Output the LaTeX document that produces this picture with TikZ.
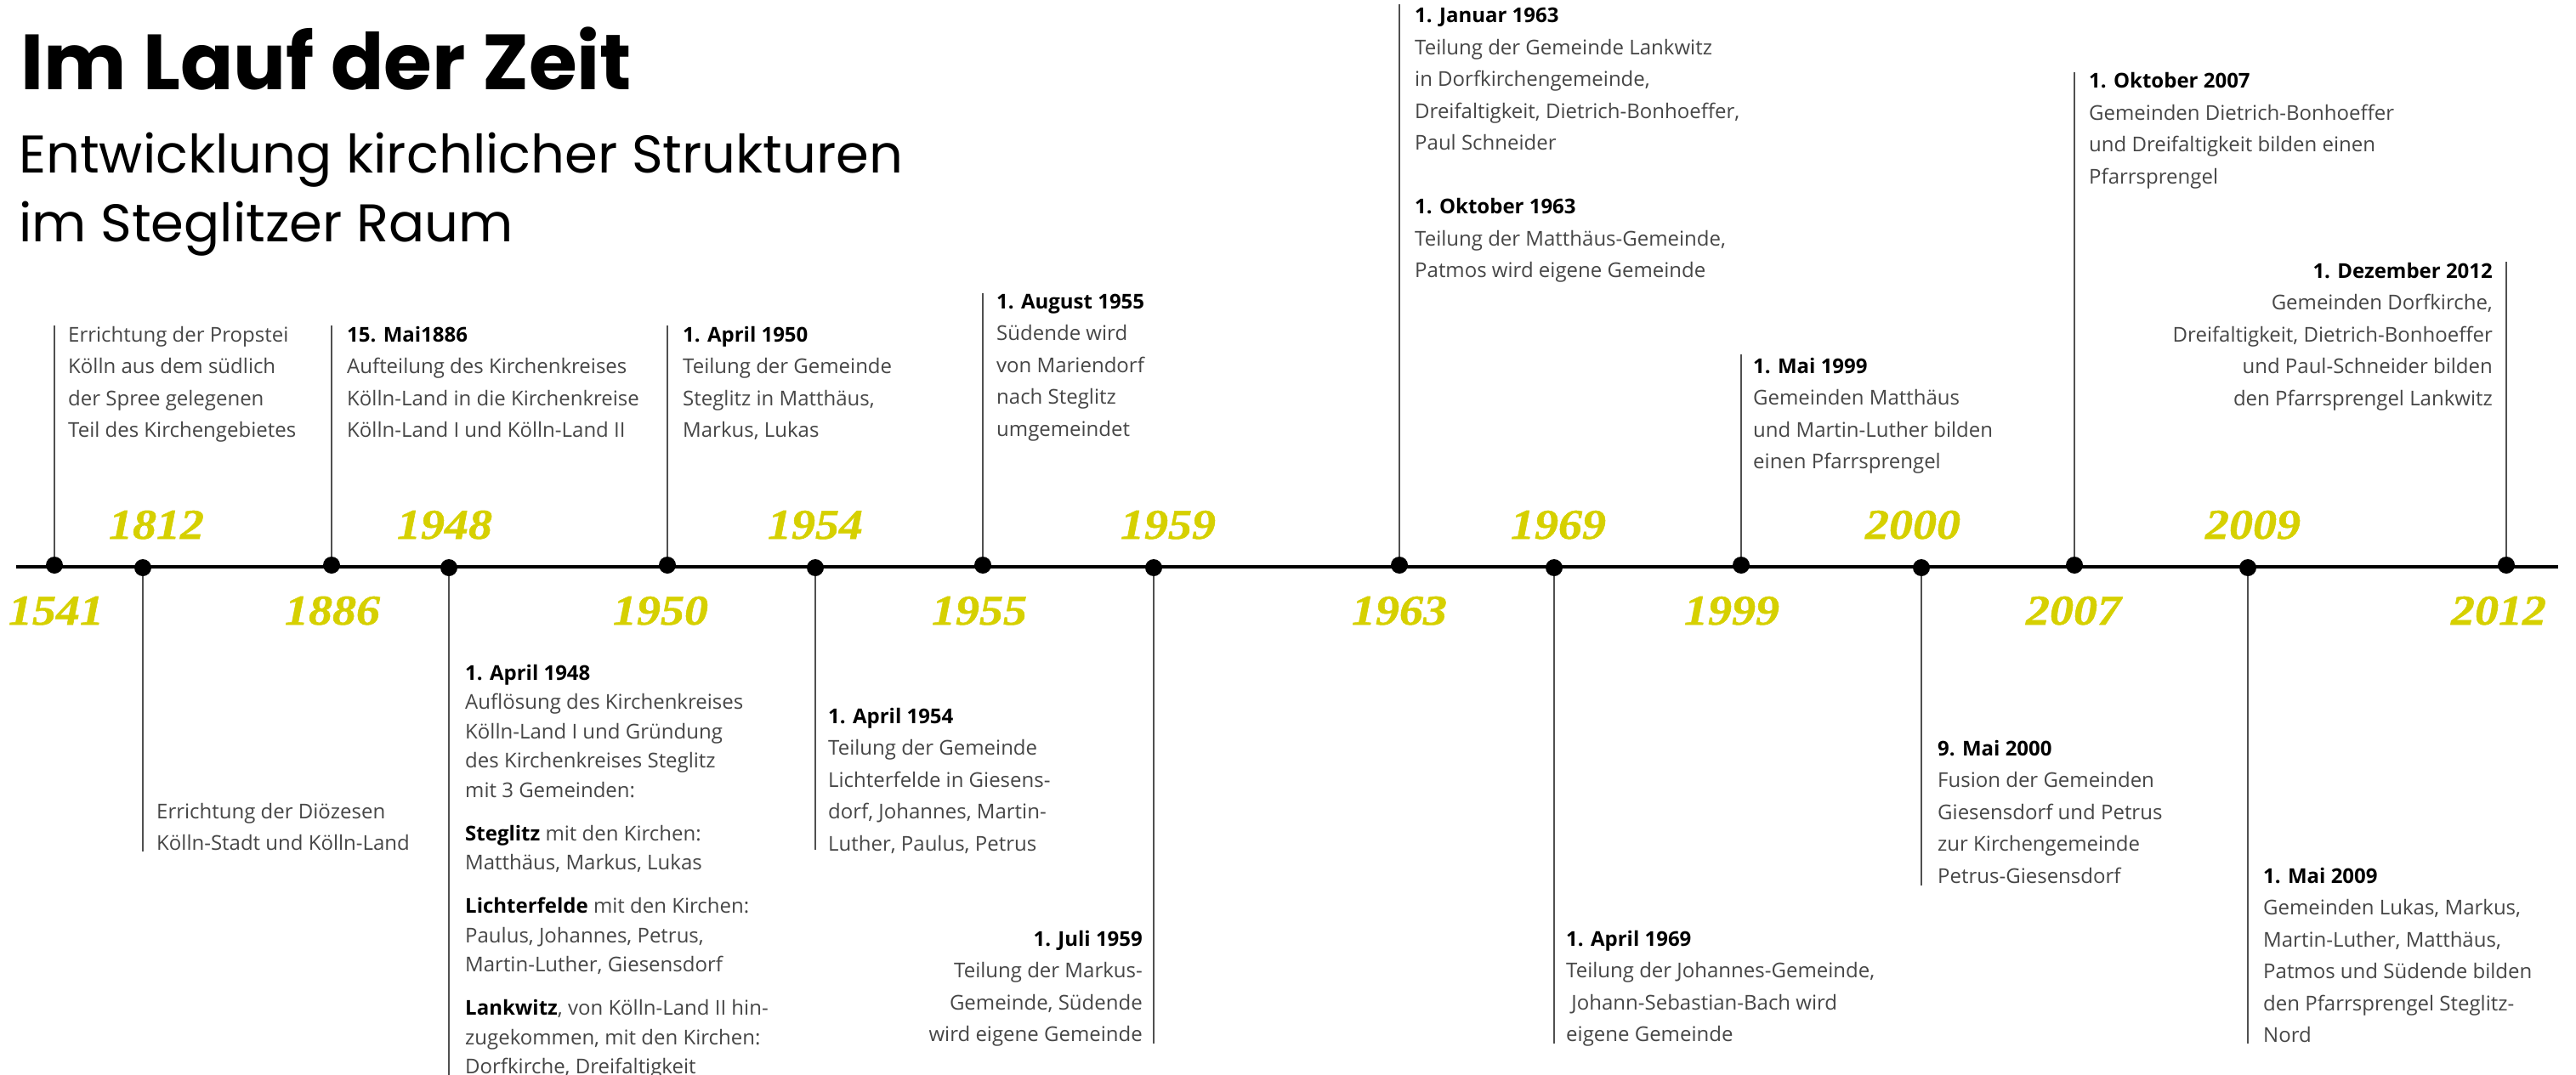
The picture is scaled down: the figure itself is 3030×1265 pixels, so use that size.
\documentclass[tikz,border=0pt]{standalone}
\usepackage{fontspec}
\setmainfont{Open Sans}
\newfontfamily\yearfont{Liberation Serif}[FakeStretch=1.12,FakeBold=1]
\newfontfamily\titlefont{Poppins}
\definecolor{yearcol}{RGB}{214,208,0}
\definecolor{bodycol}{RGB}{70,70,70}
\definecolor{linecol}{RGB}{80,80,80}
\newcommand{\blockL}[1]{\begin{tabular}[t]{@{}l@{}}#1\end{tabular}}
\newcommand{\blockR}[1]{\begin{tabular}[t]{@{}r@{}}#1\end{tabular}}
\newcommand{\hd}[1]{{\bfseries\color{black}#1}}
\tikzset{
  dot/.style={circle, fill=black, minimum size=20pt, inner sep=0pt},
  conn/.style={draw=linecol, line width=1.6pt},
  txt/.style={inner sep=0pt, font=\fontsize{24}{37.5}\selectfont, text=bodycol},
  txttight/.style={inner sep=0pt, font=\fontsize{24}{34.5}\selectfont, text=bodycol},
  yr/.style={inner sep=0pt, anchor=base, font=\yearfont\fontsize{50}{50}\selectfont\bfseries\itshape, text=yearcol},
  mainline/.style={draw=black, line width=3.2pt}
}
\begin{document}
\begin{tikzpicture}[x=1pt, y=-1pt]
\useasboundingbox (0,0) rectangle (3030,1265);
\fill[white] (0,0) rectangle (3030,1265);

% title
\node[anchor=base west, inner sep=0pt, font=\titlefont\fontsize{92}{92}\selectfont\bfseries] (title) at (24,106) {Im Lauf der Zeit};
\node[anchor=base west, inner sep=0pt, font=\titlefont\fontsize{62.4}{75}\selectfont] (sub1) at (22,204) {Entwicklung kirchlicher Strukturen};
\node[anchor=base west, inner sep=0pt, font=\titlefont\fontsize{62.4}{75}\selectfont] (sub2) at (22,285) {im Steglitzer Raum};

% main line
\coordinate (lstart) at (19,667);
\coordinate (lend) at (3009,667);
\draw[mainline] (lstart) -- (lend);

% connector end points
\coordinate (e1541) at (64,383);
\coordinate (e1812) at (168,1002);
\coordinate (e1886) at (390,383);
\coordinate (e1948) at (528,1265);
\coordinate (e1950) at (785,383);
\coordinate (e1954) at (959,1000);
\coordinate (e1955) at (1156,345);
\coordinate (e1959) at (1357,1228);
\coordinate (e1963) at (1646,5);
\coordinate (e1969) at (1828,1228);
\coordinate (e1999) at (2048,417);
\coordinate (e2000) at (2260,1042);
\coordinate (e2007) at (2440,85);
\coordinate (e2009) at (2644,1228);
\coordinate (e2012) at (2948,308);

% dots
\node[dot] (d1541) at (64,665) {};
\node[dot] (d1812) at (168,668) {};
\node[dot] (d1886) at (390,665) {};
\node[dot] (d1948) at (528,668) {};
\node[dot] (d1950) at (785,665) {};
\node[dot] (d1954) at (959,668) {};
\node[dot] (d1955) at (1156,665) {};
\node[dot] (d1959) at (1357,668) {};
\node[dot] (d1963) at (1646,665) {};
\node[dot] (d1969) at (1828,668) {};
\node[dot] (d1999) at (2048,665) {};
\node[dot] (d2000) at (2260,668) {};
\node[dot] (d2007) at (2440,665) {};
\node[dot] (d2009) at (2644,668) {};
\node[dot] (d2012) at (2948,665) {};

% connectors
\foreach \y in {1541,1812,1886,1948,1950,1954,1955,1959,1963,1969,1999,2000,2007,2009,2012}
  \draw[conn] (d\y) -- (e\y);

% year labels
\node[yr] (y1812) at (184,634) {1812};
\node[yr] (y1948) at (523,634) {1948};
\node[yr] (y1954) at (959,634) {1954};
\node[yr] (y1959) at (1374,634) {1959};
\node[yr] (y1969) at (1833,634) {1969};
\node[yr] (y2000) at (2250,634) {2000};
\node[yr] (y2009) at (2650,634) {2009};
\node[yr] (y1541) at (66,735) {1541};
\node[yr] (y1886) at (391,735) {1886};
\node[yr] (y1950) at (777,735) {1950};
\node[yr] (y1955) at (1152,735) {1955};
\node[yr] (y1963) at (1646,735) {1963};
\node[yr] (y1999) at (2037,735) {1999};
\node[yr] (y2007) at (2439,735) {2007};
\node[yr] (y2012) at (2939,735) {2012};

% text blocks
\node[txt, anchor=base west] (t1541) at (80,402) {\blockL{Errichtung der Propstei\\Kölln aus dem südlich\\der Spree gelegenen\\Teil des Kirchengebietes}};
\node[txt, anchor=base west] (t1812) at (184,963) {\blockL{Errichtung der Diözesen\\Kölln-Stadt und Kölln-Land}};
\node[txt, anchor=base west] (t1886) at (408,402) {\blockL{\hd{15. Mai1886}\\Aufteilung des Kirchenkreises\\Kölln-Land in die Kirchenkreise\\Kölln-Land I und Kölln-Land II}};
\node[txttight, anchor=base west] (t1948) at (547,800) {\blockL{\hd{1. April 1948}\\Auflösung des Kirchenkreises\\Kölln-Land I und Gründung\\des Kirchenkreises Steglitz\\mit 3 Gemeinden:\\[16.5pt]\hd{Steglitz} mit den Kirchen:\\Matthäus, Markus, Lukas\\[16.5pt]\hd{Lichterfelde} mit den Kirchen:\\Paulus, Johannes, Petrus,\\Martin-Luther, Giesensdorf\\[16.5pt]\hd{Lankwitz}, von Kölln-Land II hin-\\zugekommen, mit den Kirchen:\\Dorfkirche, Dreifaltigkeit}};
\node[txt, anchor=base west] (t1950) at (803,402) {\blockL{\hd{1. April 1950}\\Teilung der Gemeinde\\Steglitz in Matthäus,\\Markus, Lukas}};
\node[txt, anchor=base west] (t1954) at (974,851) {\blockL{\hd{1. April 1954}\\Teilung der Gemeinde\\Lichterfelde in Giesens-\\dorf, Johannes, Martin-\\Luther, Paulus, Petrus}};
\node[txt, anchor=base west] (t1955) at (1172,363) {\blockL{\hd{1. August 1955}\\Südende wird\\von Mariendorf\\nach Steglitz\\umgemeindet}};
\node[txt, anchor=base east] (t1959) at (1344,1113) {\blockR{\hd{1. Juli 1959}\\Teilung der Markus-\\Gemeinde, Südende\\wird eigene Gemeinde}};
\node[txt, anchor=base west] (t1963) at (1664,27) {\blockL{\hd{1. Januar 1963}\\Teilung der Gemeinde Lankwitz\\in Dorfkirchengemeinde,\\Dreifaltigkeit, Dietrich-Bonhoeffer,\\Paul Schneider\\[37.5pt]\hd{1. Oktober 1963}\\Teilung der Matthäus-Gemeinde,\\Patmos wird eigene Gemeinde}};
\node[txt, anchor=base west] (t1969) at (1842,1113) {\blockL{\hd{1. April 1969}\\Teilung der Johannes-Gemeinde,\\\ Johann-Sebastian-Bach wird\\eigene Gemeinde}};
\node[txt, anchor=base west] (t1999) at (2062,439) {\blockL{\hd{1. Mai 1999}\\Gemeinden Matthäus\\und Martin-Luther bilden\\einen Pfarrsprengel}};
\node[txt, anchor=base west] (t2000) at (2279,889) {\blockL{\hd{9. Mai 2000}\\Fusion der Gemeinden\\Giesensdorf und Petrus\\zur Kirchengemeinde\\Petrus-Giesensdorf}};
\node[txt, anchor=base west] (t2007) at (2457,104) {\blockL{\hd{1. Oktober 2007}\\Gemeinden Dietrich-Bonhoeffer\\und Dreifaltigkeit bilden einen\\Pfarrsprengel}};
\node[txt, anchor=base west] (t2009) at (2662,1039) {\blockL{\hd{1. Mai 2009}\\Gemeinden Lukas, Markus,\\Martin-Luther, Matthäus,\\Patmos und Südende bilden\\den Pfarrsprengel Steglitz-\\Nord}};
\node[txt, anchor=base east] (t2012) at (2932,327) {\blockR{\hd{1. Dezember 2012}\\Gemeinden Dorfkirche,\\Dreifaltigkeit, Dietrich-Bonhoeffer\\und Paul-Schneider bilden\\den Pfarrsprengel Lankwitz}};
\end{tikzpicture}
\end{document}
